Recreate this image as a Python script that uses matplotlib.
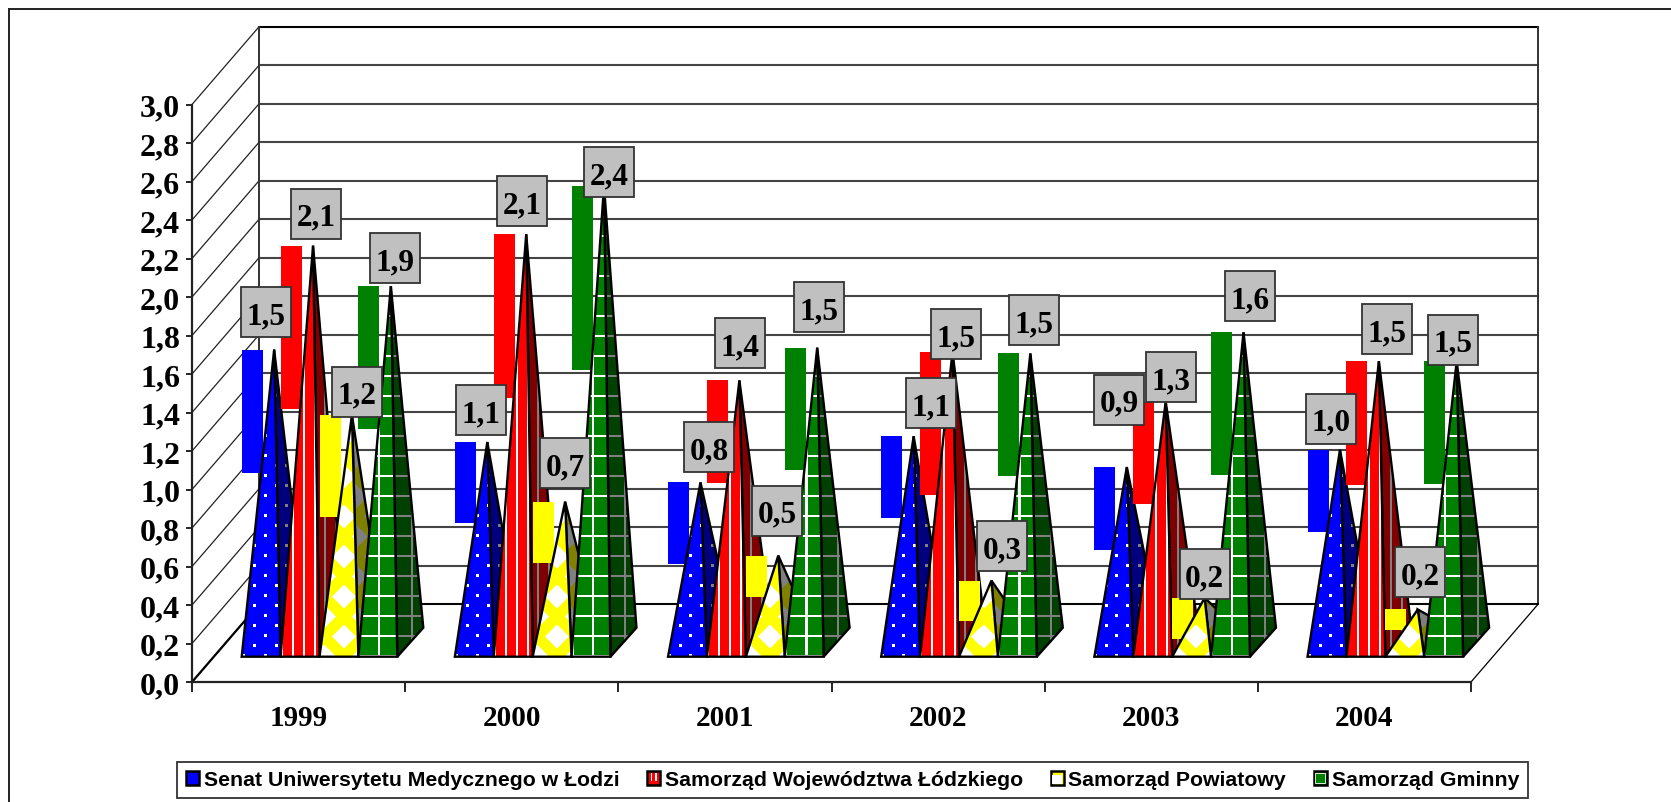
import matplotlib
matplotlib.use('Agg')
import matplotlib.pyplot as plt
from matplotlib.legend_handler import HandlerBase
from matplotlib.lines import Line2D
from matplotlib.patches import Patch, Polygon, Rectangle
import numpy as np

years = ['1999', '2000', '2001', '2002', '2003', '2004']
series_names = ['Senat Uniwersytetu Medycznego w Łodzi', 'Samorząd Województwa Łódzkiego',
                'Samorząd Powiatowy', 'Samorząd Gminny']

# one row per year, one column per series
values = [[1.52, 2.06, 1.18, 1.85],
          [1.04, 2.12, 0.73, 2.37],
          [0.83, 1.36, 0.45, 1.53],
          [1.07, 1.51, 0.32, 1.50],
          [0.91, 1.25, 0.23, 1.61],
          [1.00, 1.46, 0.17, 1.46]]
labels = [['1,5', '2,1', '1,2', '1,9'],
          ['1,1', '2,1', '0,7', '2,4'],
          ['0,8', '1,4', '0,5', '1,5'],
          ['1,1', '1,5', '0,3', '1,5'],
          ['0,9', '1,3', '0,2', '1,6'],
          ['1,0', '1,5', '0,2', '1,5']]
# the flat coloured slabs hanging from the height of every cone
slab_heights = [[0.64, 0.85, 0.53, 0.745],
                [0.42, 0.85, 0.32, 0.955],
                [0.425, 0.535, 0.215, 0.635],
                [0.425, 0.745, 0.21, 0.635],
                [0.43, 0.53, 0.215, 0.74],
                [0.43, 0.645, 0.105, 0.64]]
y_ticks = [i / 5 for i in range(16)]

# label box centre relative to the apex, in pixels
label_offsets = [[(-8, -35), (3, -30), (5, -22), (4, -26)],
                 [(-6, -30), (-4, -31), (0, -36), (5, -13)],
                 [(8, -33), (1, -35), (-1, -42), (2, -38)],
                 [(16, -31), (3, -16), (10, -32), (3, -31)],
                 [(-7, -63), (5, -23), (0, -22), (6, -34)],
                 [(-8, -29), (8, -30), (2, -35), (-3, -20)]]

colors = [(0, 0, 255), (255, 0, 0), (255, 255, 0), (0, 128, 0)]
W, H = 1671, 803
PX = 6 / 1279    # one pixel in x data units
PY = 3 / 577.5   # one pixel in y data units
DX, DY = 67 * PX, 77.7 * PY
SERIF = 'Liberation Serif'


def pattern(kind, color, w, h):
    yy, xx = np.mgrid[0:h, 0:w]
    if kind == 0:
        mask = ((xx + (yy // 10 % 2) * 10) % 21 < 3) & (yy % 10 < 3)
    elif kind == 1:
        mask = xx % 11 < 2
    elif kind == 2:
        mask = ((xx + yy + 8) % 40 < 24) & ((xx - yy + 808) % 40 < 24)
    else:
        mask = (xx % 20 < 2) | (yy % 20 < 2)
    img = np.zeros((h, w, 3), dtype=np.uint8)
    img[:] = color
    img[mask] = (255, 255, 255)
    return img


def textured(ax, pts, kind, color, shade, z):
    xs = [p[0] for p in pts]
    ys = [p[1] for p in pts]
    w = int((max(xs) - min(xs)) / PX) + 2
    h = int((max(ys) - min(ys)) / PY) + 2
    img = (pattern(kind, color, w, h) * shade).astype(np.uint8)
    im = ax.imshow(img, origin='lower', aspect='auto', interpolation='nearest', zorder=z,
                   extent=(min(xs), min(xs) + w * PX, min(ys), min(ys) + h * PY))
    im.set_clip_path(Polygon(pts, closed=True, transform=ax.transData))
    im.set_clip_box(fig.bbox)
    ax.add_patch(Polygon(pts, closed=True, fc='none', ec='black', lw=1.7, zorder=z + 0.1,
                         clip_on=False, joinstyle='miter'))


class SwatchHandler(HandlerBase):
    # small black-edged square with the white of the fill pattern inside
    def create_artists(self, legend, orig, xd, yd, width, height, fontsize, trans):
        fill = orig.get_facecolor()
        kind = orig.get_label()
        box = Rectangle((-xd, -yd), width, height, fc=fill, ec='black', lw=1.8, transform=trans)
        arts = [box]
        if kind == 'stripes':
            for f in [0.3, 0.62]:
                arts.append(Rectangle((-xd + f * width, -yd + 0.3 * height), 0.12 * width, 0.55 * height,
                                      fc='white', ec='none', transform=trans))
        elif kind == 'pale':
            arts.append(Rectangle((-xd + 0.1 * width, -yd + 0.1 * height), 0.8 * width, 0.62 * height,
                                  fc='white', ec='none', transform=trans))
        elif kind == 'rim':
            arts.append(Rectangle((-xd + 0.12 * width, -yd + 0.12 * height), 0.76 * width, 0.76 * height,
                                  fc='none', ec='white', lw=0.6, transform=trans))
        return arts


fig = plt.figure(figsize=(W / 100, H / 100), dpi=100, facecolor='white')
# the outer frame is cut off on the right and at the bottom
fig.add_artist(Line2D([9 / W, 9 / W], [0, 1 - 9.5 / H], color='#222222', lw=1.4))
fig.add_artist(Line2D([9 / W, 1], [1 - 9.5 / H, 1 - 9.5 / H], color='#222222', lw=1.4))
ax = fig.add_axes([192 / W, 1 - 683 / H, 1279 / W, 577.5 / H])
ax.patch.set_visible(False)

# walls and floor
for t in y_ticks:
    ax.plot([DX, 6 + DX], [t + DY, t + DY], color='#444444', lw=1.5, zorder=1, clip_on=False)
    ax.plot([0, DX], [t, t + DY], color='#222222', lw=0.9, zorder=1, clip_on=False)
ax.plot([DX, 6 + DX], [3 + DY, 3 + DY], color='black', lw=1.4, zorder=1, clip_on=False)
ax.plot([DX, DX], [DY, 3 + DY], color='#333333', lw=1.4, zorder=1, clip_on=False)
ax.plot([6 + DX, 6 + DX], [DY, 3 + DY], color='#333333', lw=1.4, zorder=1, clip_on=False)
ax.plot([6, 6 + DX], [0, DY], color='black', lw=0.9, zorder=1, clip_on=False)
ax.plot([0, DX], [0, DY], color='black', lw=1.6, zorder=1, clip_on=False)
ax.plot([DX, 6 + DX], [DY, DY], color='black', lw=1.3, zorder=1, clip_on=False)

# cones
base_w = 38.9 * PX
base_y = 25.3 * PY
depth_x, depth_y = 26 * PX, 29 * PY
z = 3
for g, row in enumerate(values):
    for s, val in enumerate(row):
        x0 = g + 49.7 * PX + s * base_w
        x1 = x0 + base_w
        apex = (x0 + base_w / 2 + depth_x / 2, base_y + depth_y / 2 + val)
        ax.add_patch(Rectangle((x0, apex[1] - slab_heights[g][s]), 21 * PX, slab_heights[g][s],
                               fc=np.array(colors[s]) / 255, ec='none', zorder=z, clip_on=False))
        textured(ax, [(x1, base_y), (x1 + depth_x, base_y + depth_y), apex], s, colors[s], 0.5, z + 0.2)
        textured(ax, [(x0, base_y), (x1, base_y), apex], s, colors[s], 1.0, z + 0.4)
        z += 1

# value boxes go on top of everything
for g, row in enumerate(values):
    for s, val in enumerate(row):
        ox, oy = label_offsets[g][s]
        cx = g + 49.7 * PX + s * base_w + base_w / 2 + depth_x / 2 + ox * 1.0657 * PX
        cy = base_y + depth_y / 2 + val - oy * 1.0657 * PY
        ax.add_patch(Rectangle((cx - 25 * PX, cy - 25 * PY), 50 * PX, 50 * PY, fc='#c0c0c0',
                               ec='#333333', lw=1.3, zorder=100, clip_on=False))
        ax.text(cx, cy, labels[g][s], ha='center', va='center_baseline', family=SERIF,
                weight='bold', fontsize=22.5, zorder=101)

ax.set_xlim(0, 6)
ax.set_ylim(0, 3)
for side in ['top', 'right']:
    ax.spines[side].set_visible(False)
for side in ['left', 'bottom']:
    ax.spines[side].set_linewidth(1.6)
    ax.spines[side].set_color('#222222')
ax.set_yticks(y_ticks)
ax.set_yticklabels([f'{t:.1f}'.replace('.', ',') for t in y_ticks], family=SERIF, weight='bold', fontsize=23)
ax.set_xticks(range(7))
ax.set_xticklabels([])
ax.set_xticks([i + 0.5 for i in range(6)], labels=years, minor=True, family=SERIF, weight='bold', fontsize=21)
ax.tick_params(axis='y', length=4, width=1.2, pad=4.5)
ax.tick_params(axis='x', which='major', length=7, width=1.2)
ax.tick_params(axis='x', which='minor', length=0, pad=16)

handles = [Patch(fc=np.array(c) / 255, label=k)
           for c, k in zip(colors, ['plain', 'stripes', 'pale', 'rim'])]
leg = fig.legend(handles, series_names, loc='center', bbox_to_anchor=(852.5 / W, 1 - 781 / H), ncol=4,
                 prop={'family': 'Liberation Sans', 'weight': 'bold', 'size': 15.3},
                 fancybox=False, edgecolor='#333333', framealpha=1, handlelength=0.62, handleheight=0.62,
                 handletextpad=0.22, columnspacing=1.3, borderpad=0.42, borderaxespad=0,
                 handler_map={Patch: SwatchHandler()})
leg.get_frame().set_linewidth(1.3)

fig.savefig('out.png', dpi=100)
